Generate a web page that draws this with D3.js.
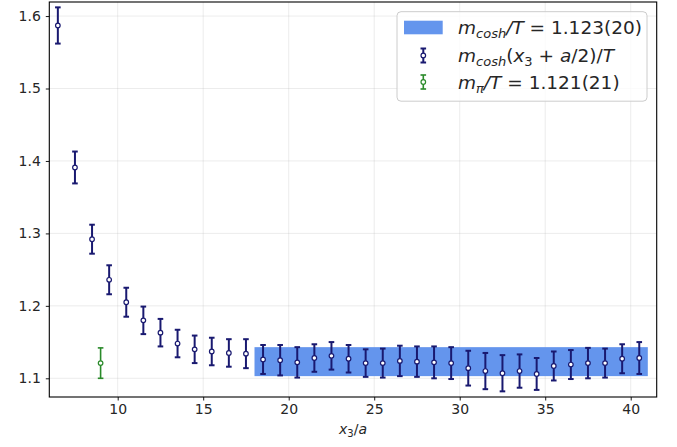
<!DOCTYPE html>
<html><head><meta charset="utf-8">
<script src="https://cdn.jsdelivr.net/npm/d3@7"></script>
<style>body{margin:0;background:#fff;} svg{display:block;font-family:"DejaVu Sans",sans-serif;}</style>
</head><body><svg id="c" width="677" height="447"></svg>
<script>
const xPos = [6.5,7.5,8.5,9.5,10.5,11.5,12.5,13.5,14.5,15.5,16.5,17.5,18.5,19.5,20.5,21.5,22.5,23.5,24.5,25.5,26.5,27.5,28.5,29.5,30.5,31.5,32.5,33.5,34.5,35.5,36.5,37.5,38.5,39.5,40.5];
const mCosh = [1.587,1.391,1.292,1.236,1.205,1.180,1.163,1.148,1.140,1.137,1.135,1.134,1.126,1.125,1.122,1.128,1.131,1.127,1.121,1.121,1.124,1.123,1.122,1.121,1.114,1.110,1.107,1.110,1.106,1.117,1.119,1.121,1.121,1.127,1.128];
const mCoshErr = [0.025,0.022,0.020,0.020,0.020,0.019,0.019,0.019,0.019,0.019,0.019,0.020,0.020,0.021,0.021,0.019,0.019,0.019,0.019,0.020,0.021,0.021,0.022,0.022,0.024,0.025,0.025,0.023,0.022,0.020,0.020,0.021,0.020,0.020,0.022];
const piX = [9];
const piVal = [1.121];
const piErr = [0.021];
const fitVal = 1.123, fitErr = 0.020;
const fitRange = [18, 41];
const xTicks = [10,15,20,25,30,35,40];
const yTicks = [1.1,1.2,1.3,1.4,1.5,1.6];

const svg = d3.select("#c");
const L = 49.3, T = 2, R = 656.7, B = 397;
const x = d3.scaleLinear().domain([6.0, 41.52]).range([L, R]);
const y = d3.scaleLinear().domain([1.0742, 1.6194]).range([B, T]);

// grid
const g = svg.append("g");
g.selectAll(".gx").data(xTicks).enter().append("line")
  .attr("x1", d=>x(d)).attr("x2", d=>x(d)).attr("y1", T).attr("y2", B)
  .attr("stroke", "#b0b0b0").attr("stroke-opacity", 0.3).attr("stroke-width", 0.8);
g.selectAll(".gy").data(yTicks).enter().append("line")
  .attr("y1", d=>y(d)).attr("y2", d=>y(d)).attr("x1", L).attr("x2", R)
  .attr("stroke", "#b0b0b0").attr("stroke-opacity", 0.3).attr("stroke-width", 0.8);

// band
svg.append("rect")
  .attr("x", x(fitRange[0])).attr("width", x(fitRange[1]) - x(fitRange[0]))
  .attr("y", y(fitVal + fitErr)).attr("height", y(fitVal - fitErr) - y(fitVal + fitErr))
  .attr("fill", "#6495ED");

function errorbars(xs, vs, es, color, lw, cap) {
  const gg = svg.append("g");
  const d = xs.map((xx,i)=>({x:xx, v:vs[i], e:es[i]}));
  gg.selectAll(".v").data(d).enter().append("line")
    .attr("x1", d=>x(d.x)).attr("x2", d=>x(d.x))
    .attr("y1", d=>y(d.v+d.e)).attr("y2", d=>y(d.v-d.e))
    .attr("stroke", color).attr("stroke-width", lw);
  [1,-1].forEach(s=>{
    gg.selectAll(".c"+s).data(d).enter().append("line")
      .attr("x1", d=>x(d.x)-cap).attr("x2", d=>x(d.x)+cap)
      .attr("y1", d=>y(d.v+s*d.e)).attr("y2", d=>y(d.v+s*d.e))
      .attr("stroke", color).attr("stroke-width", lw);
  });
  gg.selectAll("circle").data(d).enter().append("circle")
    .attr("cx", d=>x(d.x)).attr("cy", d=>y(d.v)).attr("r", 2.3)
    .attr("fill", "#fff").attr("stroke", color).attr("stroke-width", 1.2);
}
errorbars(xPos, mCosh, mCoshErr, "#191970", 2, 2.8);
errorbars(piX, piVal, piErr, "#2a8a2a", 1.6, 2.8);

// axes
const xa = svg.append("g").attr("transform", `translate(0,${B})`)
  .call(d3.axisBottom(x).tickValues(xTicks).tickSize(3.5).tickPadding(4).tickFormat(d3.format("d")));
const ya = svg.append("g").attr("transform", `translate(${L},0)`)
  .call(d3.axisLeft(y).tickValues(yTicks).tickSize(3.5).tickPadding(5).tickFormat(d3.format(".1f")));
[xa, ya].forEach(a=>{
  a.select(".domain").remove();
  a.selectAll(".tick line").attr("stroke", "#000").attr("stroke-width", 0.9);
  a.selectAll(".tick text").attr("font-size", 14).attr("fill", "#262626").attr("font-family", "DejaVu Sans");
});
svg.append("rect").attr("x", L).attr("y", T).attr("width", R-L).attr("height", B-T)
  .attr("fill", "none").attr("stroke", "#000").attr("stroke-width", 1.1);

// x label
const xl = svg.append("text").attr("x", (L+R)/2).attr("y", 434).attr("text-anchor", "middle")
  .attr("font-size", 14).attr("fill", "#262626");
xl.append("tspan").attr("font-style", "italic").text("x");
xl.append("tspan").attr("font-size", 10).attr("dy", 3).text("3");
xl.append("tspan").attr("dy", -3).text("/");
xl.append("tspan").attr("font-style", "italic").text("a");

// legend
const lg = svg.append("g");
lg.append("rect").attr("x", 397).attr("y", 11.7).attr("width", 250).attr("height", 89.5)
  .attr("rx", 4).attr("fill", "#fff").attr("fill-opacity", 0.8).attr("stroke", "#cccccc").attr("stroke-width", 1);
lg.append("rect").attr("x", 404).attr("y", 20.7).attr("width", 38.7).attr("height", 13.6).attr("fill", "#6495ED");
function legMarker(cx, cy, color, lw) {
  lg.append("line").attr("x1", cx).attr("x2", cx).attr("y1", cy-7).attr("y2", cy+7).attr("stroke", color).attr("stroke-width", lw);
  [-7,7].forEach(o=>lg.append("line").attr("x1", cx-2.8).attr("x2", cx+2.8).attr("y1", cy+o).attr("y2", cy+o).attr("stroke", color).attr("stroke-width", lw));
  lg.append("circle").attr("cx", cx).attr("cy", cy).attr("r", 2.3).attr("fill", "#fff").attr("stroke", color).attr("stroke-width", 1.2);
}
legMarker(423.3, 55.5, "#191970", 2);
legMarker(423.3, 82, "#2a8a2a", 1.6);
const fs = 18.5, sub = 13;
function legText(yb) {
  return lg.append("text").attr("x", 458).attr("y", yb).attr("font-size", fs).attr("fill", "#262626");
}
let t1 = legText(34);
t1.append("tspan").attr("font-style", "italic").text("m");
t1.append("tspan").attr("font-style", "italic").attr("font-size", sub).attr("dy", 4).text("cosh");
t1.append("tspan").attr("dy", -4).attr("font-style", "italic").text("/T");
t1.append("tspan").text(" = 1.123(20)");
let t2 = legText(61.5);
t2.append("tspan").attr("font-style", "italic").text("m");
t2.append("tspan").attr("font-style", "italic").attr("font-size", sub).attr("dy", 4).text("cosh");
t2.append("tspan").attr("dy", -4).text("(");
t2.append("tspan").attr("font-style", "italic").text("x");
t2.append("tspan").attr("font-size", sub).attr("dy", 4).text("3");
t2.append("tspan").attr("dy", -4).text(" + ");
t2.append("tspan").attr("font-style", "italic").text("a");
t2.append("tspan").text("/2)/");
t2.append("tspan").attr("font-style", "italic").text("T");
let t3 = legText(88.5);
t3.append("tspan").attr("font-style", "italic").text("m");
t3.append("tspan").attr("font-style", "italic").attr("font-size", sub).attr("dy", 4).text("π");
t3.append("tspan").attr("dy", -4).attr("font-style", "italic").text("/T");
t3.append("tspan").text(" = 1.121(21)");
</script></body></html>
